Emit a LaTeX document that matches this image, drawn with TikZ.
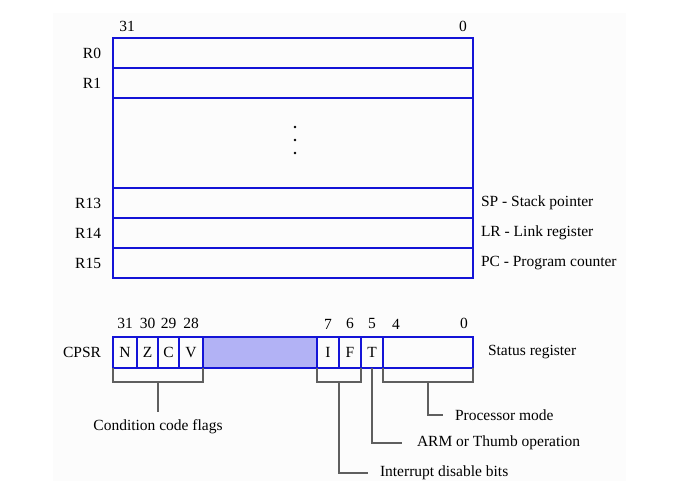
\documentclass[tikz,border=0pt]{standalone}
\usepackage{fontspec}
\setmainfont{Liberation Serif}
\usepackage{tikz}
\usetikzlibrary{positioning, calc}
\definecolor{regblue}{RGB}{20,20,215}
\definecolor{resfill}{RGB}{178,178,245}
\definecolor{bggray}{RGB}{252,252,252}
\definecolor{brkgray}{RGB}{95,95,95}
\tikzstyle{reg} = [draw=regblue, line width=1.1pt, minimum width=360pt, minimum height=30pt, inner sep=0pt, outer sep=0pt]
\tikzstyle{cell} = [draw=regblue, line width=1.1pt, minimum height=31pt, inner sep=0pt, outer sep=0pt]
\tikzstyle{lbl} = [inner sep=0pt, outer sep=0pt]
\tikzstyle{brk} = [draw=brkgray, line width=1.3pt]

\begin{document}
\begin{tikzpicture}[x=1pt, y=-1pt, every node/.style={font=\fontsize{15.5}{18}\selectfont}]
	\useasboundingbox (0,0) rectangle (698,481);
	\fill [bggray] (53,13) rectangle (626,481);
	
	% general purpose registers
	\node [reg] (r0) at (293,53) {};
	\node [reg, below=0pt of r0] (r1) {};
	\node [reg, below=0pt of r1, minimum height=90pt] (gap) {};
	\node [reg, below=0pt of gap] (r13) {};
	\node [reg, below=0pt of r13] (r14) {};
	\node [reg, below=0pt of r14] (r15) {};
	\foreach \dy in {-16,-3,10}
		\fill ($(gap.center)+(2,\dy)$) circle (1.4pt);
	
	\foreach \r/\t in {r0/R0, r1/R1, r13/R13, r14/R14, r15/R15}
		\node [lbl, left=12pt of \r] (l\r) {\t};
	\node [lbl, above=6pt of r0.north west, xshift=14pt] (top31) {31};
	\node [lbl, above=6pt of r0.north east, xshift=-10pt] (top0) {0};
	
	\node [lbl, right=8pt of r13] (sp) {SP - Stack pointer};
	\node [lbl, right=8pt of r14] (lr) {LR - Link register};
	\node [lbl, right=8pt of r15] (pc) {PC - Program counter};
	
	% status register
	\node [cell, minimum width=24pt, anchor=west] (n) at (113,352.5) {N};
	\node [cell, minimum width=21pt, right=0pt of n] (z) {Z};
	\node [cell, minimum width=21pt, right=0pt of z] (c) {C};
	\node [cell, minimum width=24pt, right=0pt of c] (v) {V};
	\node [cell, minimum width=114pt, right=0pt of v, fill=resfill] (res) {};
	\node [cell, minimum width=22pt, right=0pt of res] (i) {I};
	\node [cell, minimum width=22pt, right=0pt of i] (f) {F};
	\node [cell, minimum width=22pt, right=0pt of f] (t) {T};
	\node [cell, minimum width=90pt, right=0pt of t] (mode) {};
	
	\foreach \c/\b in {n/31, z/30, c/29, v/28, i/7, f/6, t/5}
		\node [lbl, above=8pt of \c] (b\b) {\b};
	\node [lbl, above=8pt of mode.north west, xshift=13pt] (b4) {4};
	\node [lbl, above=8pt of mode.north east, xshift=-9pt] (b0) {0};
	
	\node [lbl, left=12pt of n] (cpsr) {CPSR};
	\node [lbl, right=15pt of mode] (status) {Status register};
	
	\node [lbl] (ccf) at (158,427) {Condition code flags};
	\node [lbl, anchor=west] (pm) at (455,415) {Processor mode};
	\node [lbl, anchor=west] (arm) at (417,443) {ARM or Thumb operation};
	\node [lbl, anchor=west] (intr) at (380,473) {Interrupt disable bits};
	
	\path [brk] (n.south west) -- ++(0,14) -| (v.south east);
	\path [brk, shorten >=8pt] ($(z.south east)+(0,14)$) -- (ccf.north);
	\path [brk] (i.south west) -- ++(0,14) -| (f.south east);
	\path [brk] ($(i.south east)+(0,14)$) |- ([xshift=-12pt]intr.west);
	\path [brk] (t.south) |- ([xshift=-15pt]arm.west);
	\path [brk] (mode.south west) -- ++(0,14) -| (mode.south east);
	\path [brk] ($(mode.south)+(0,14)$) |- ([xshift=-12pt]pm.west);
\end{tikzpicture}
\end{document}
